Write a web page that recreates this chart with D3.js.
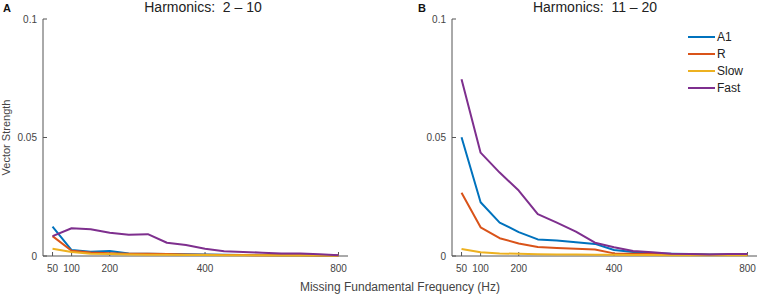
<!DOCTYPE html>
<html>
<head>
<meta charset="utf-8">
<script src="https://cdn.jsdelivr.net/npm/d3@7"></script>
<style>
  body { margin: 0; background: #fff; }
  svg { font-family: "Liberation Sans", Arial, sans-serif; }
  text { white-space: pre; }
</style>
</head>
<body>
<div id="container"></div>
<script>
const W = 758, H = 295

// x positions are evenly spaced sample indices; labelled ticks at some of them
const tickIdx = [0, 1, 3, 8, 15]
const tickLabels = ["50", "100", "200", "400", "800"]
const seriesNames = ["A1", "R", "Slow", "Fast"]
const seriesColors = ["#0072BD", "#D95319", "#EDB120", "#7E2F8E"]

// Panel A, harmonics 2-10
const a1A   = [0.0124, 0.0025, 0.0018, 0.0021, 0.0011, 0.0009, 0.0008, 0.0007, 0.0006, 0.0005, 0.0004, 0.0004, 0.0003, 0.0003, 0.0002, 0.0002]
const rA    = [0.0084, 0.0022, 0.0015, 0.0012, 0.0010, 0.0009, 0.0008, 0.0006, 0.0005, 0.0004, 0.0004, 0.0003, 0.0003, 0.0003, 0.0002, 0.0002]
const slowA = [0.0031, 0.0017, 0.0010, 0.0008, 0.0006, 0.0005, 0.0005, 0.0004, 0.0004, 0.0003, 0.0003, 0.0003, 0.0002, 0.0002, 0.0002, 0.0001]
const fastA = [0.0084, 0.0117, 0.0113, 0.0098, 0.0090, 0.0092, 0.0056, 0.0046, 0.0031, 0.0020, 0.0017, 0.0014, 0.0011, 0.0011, 0.0007, 0.0003]

// Panel B, harmonics 11-20
const a1B   = [0.0501, 0.0227, 0.0141, 0.0101, 0.0070, 0.0065, 0.0058, 0.0051, 0.0025, 0.0017, 0.0012, 0.0010, 0.0008, 0.0006, 0.0006, 0.0006]
const rB    = [0.0267, 0.0121, 0.0075, 0.0053, 0.0038, 0.0034, 0.0031, 0.0027, 0.0011, 0.0009, 0.0008, 0.0007, 0.0006, 0.0005, 0.0005, 0.0005]
const slowB = [0.0030, 0.0016, 0.0011, 0.0009, 0.0007, 0.0006, 0.0006, 0.0005, 0.0005, 0.0004, 0.0004, 0.0003, 0.0003, 0.0003, 0.0003, 0.0003]
const fastB = [0.0746, 0.0436, 0.0352, 0.0276, 0.0177, 0.0141, 0.0103, 0.0056, 0.0037, 0.0021, 0.0016, 0.0010, 0.0008, 0.0006, 0.0008, 0.0008]

const yTicks = [0, 0.05, 0.1]
const yTickLabels = ["0", "0.05", "0.1"]

const panels = [
    {letter: "A", title: "Harmonics:  2 \u2013 10", x0: 43, x1: 348, titleX: 203, letterX: 3, series: [a1A, rA, slowA, fastA]},
    {letter: "B", title: "Harmonics:  11 \u2013 20", x0: 452, x1: 757, titleX: 595, letterX: 418, series: [a1B, rB, slowB, fastB]}
]

const yTop = 19, yBot = 256
const axisColor = "#555"
const textColor = "#444"

const svg = d3.select("#container").append("svg")
    .attr("width", W)
    .attr("height", H)

const y = d3.scaleLinear().domain([0, 0.1]).range([yBot, yTop])

panels.forEach(p => {
    const x = d3.scaleLinear().domain([-0.5, 15.5]).range([p.x0, p.x1])
    const g = svg.append("g")

    // axes lines
    g.append("line")
        .attr("x1", p.x0).attr("x2", p.x1)
        .attr("y1", yBot).attr("y2", yBot)
        .attr("stroke", axisColor)
    g.append("line")
        .attr("x1", p.x0).attr("x2", p.x0)
        .attr("y1", yTop).attr("y2", yBot)
        .attr("stroke", axisColor)

    // x ticks (inward)
    tickIdx.forEach((t, i) => {
        g.append("line")
            .attr("x1", x(t)).attr("x2", x(t))
            .attr("y1", yBot).attr("y2", yBot - 4)
            .attr("stroke", axisColor)
        g.append("text")
            .attr("x", x(t)).attr("y", yBot + 16)
            .attr("text-anchor", "middle")
            .attr("font-size", 10)
            .attr("fill", textColor)
            .text(tickLabels[i])
    })

    // y ticks (inward)
    yTicks.forEach((v, i) => {
        g.append("line")
            .attr("x1", p.x0).attr("x2", p.x0 + 4)
            .attr("y1", y(v)).attr("y2", y(v))
            .attr("stroke", axisColor)
        g.append("text")
            .attr("x", p.x0 - 6).attr("y", y(v))
            .attr("dy", "0.35em")
            .attr("text-anchor", "end")
            .attr("font-size", 10)
            .attr("fill", textColor)
            .text(yTickLabels[i])
    })

    const line = d3.line()
        .x((d, i) => x(i))
        .y(d => y(d))

    p.series.forEach((s, k) => {
        g.append("path")
            .datum(s)
            .attr("fill", "none")
            .attr("stroke", seriesColors[k])
            .attr("stroke-width", 2)
            .attr("stroke-linejoin", "round")
            .attr("d", line)
    })

    g.append("text")
        .attr("x", p.titleX).attr("y", 12)
        .attr("text-anchor", "middle")
        .attr("font-size", 14)
        .attr("fill", "#222")
        .text(p.title)

    g.append("text")
        .attr("x", p.letterX).attr("y", 12)
        .attr("font-size", 11)
        .attr("font-weight", "bold")
        .attr("fill", "#111")
        .text(p.letter)
})

// legend in panel B
const legend = svg.append("g")
    .selectAll("g")
    .data(seriesNames)
    .join("g")
    .attr("transform", (d, i) => `translate(688,${37 + i * 17})`)

legend.append("line")
    .attr("x1", 0).attr("x2", 27)
    .attr("stroke", (d, i) => seriesColors[i])
    .attr("stroke-width", 2)

legend.append("text")
    .attr("x", 29)
    .attr("dy", "0.35em")
    .attr("font-size", 12)
    .attr("fill", "#222")
    .text(d => d)

// axis labels
svg.append("text")
    .attr("transform", `translate(10,${(yTop + yBot) / 2}) rotate(-90)`)
    .attr("text-anchor", "middle")
    .attr("font-size", 11)
    .attr("fill", textColor)
    .text("Vector Strength")

svg.append("text")
    .attr("x", 400).attr("y", 291)
    .attr("text-anchor", "middle")
    .attr("font-size", 12)
    .attr("fill", textColor)
    .text("Missing Fundamental Frequency (Hz)")
</script>
</body>
</html>
